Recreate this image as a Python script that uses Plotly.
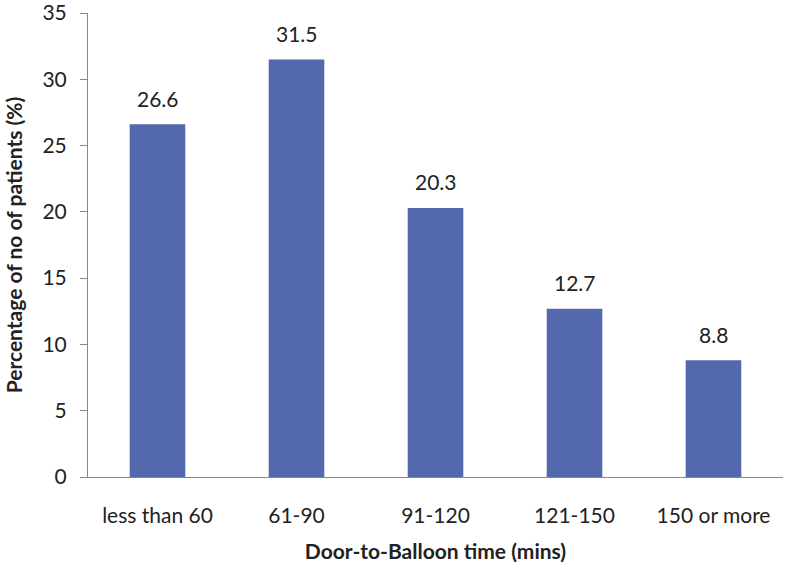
import plotly.graph_objects as go

categories = ["less than 60", "61-90", "91-120", "121-150", "150 or more"]
values = [26.6, 31.5, 20.3, 12.7, 8.8]
labels = ["26.6", "31.5", "20.3", "12.7", "8.8"]
y_ticks = [0, 5, 10, 15, 20, 25, 30, 35]

font = "Lato"
fig = go.Figure(go.Bar(
    x=categories, y=values,
    marker=dict(color="#5468ad", line=dict(width=0)), width=0.4,
))
for c, v, t in zip(categories, values, labels):
    fig.add_annotation(x=c, y=v, text=t, showarrow=False, yshift=26,
                       yanchor="middle", font=dict(size=21, color="#222"))

fig.update_layout(
    width=791, height=575, plot_bgcolor="white", paper_bgcolor="white",
    margin=dict(l=88, r=8, t=13, b=98, autoexpand=False),
    font=dict(family=font, size=21, color="#222"),
    showlegend=False,
)
fig.update_xaxes(
    showline=True, linecolor="#888", linewidth=1, ticks="", tickfont=dict(size=21),
    ticklabelstandoff=20, automargin=False,
    title=dict(text="<b>Door-to-Balloon time (mins)</b>", font=dict(size=21), standoff=18),
)
fig.update_yaxes(
    range=[0, 35], tickvals=y_ticks, showline=True, linecolor="#888", linewidth=1,
    ticks="outside", ticklen=7, tickcolor="#888", showgrid=False, zeroline=False,
    tickfont=dict(size=21), ticklabelstandoff=9, automargin=False,
    ticklabeloverflow="allow",
    title=dict(text="<b>Percentage of no of patients (%)</b>", font=dict(size=21), standoff=14),
)
fig.write_html("out.html", config={"displayModeBar": False},
               post_script="document.body.style.margin='0px';")
